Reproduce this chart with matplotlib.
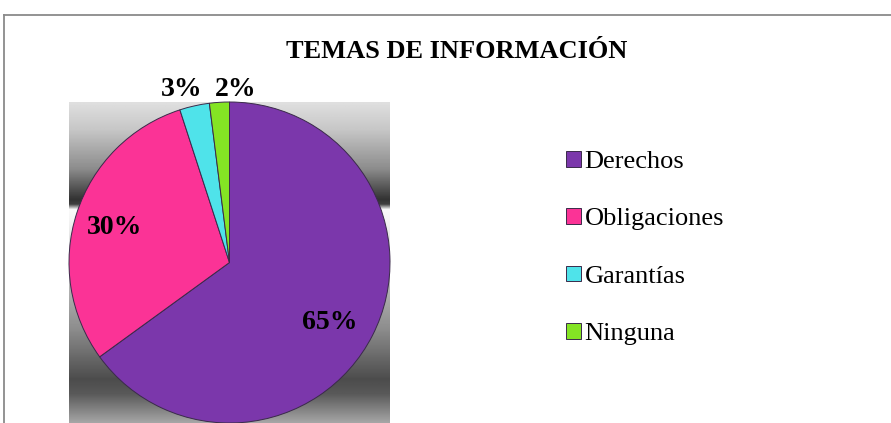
import matplotlib
matplotlib.use("Agg")
import matplotlib.pyplot as plt
import numpy as np
from matplotlib.lines import Line2D

plt.rcParams['font.family'] = ['Liberation Serif', 'DejaVu Serif']

# datos
categorias = ["Derechos", "Obligaciones", "Garantías", "Ninguna"]
porcentajes = [65, 30, 3, 2]
colores = ["#7b37ab", "#fb3396", "#4fe3ea", "#84e424"]
titulo = "TEMAS DE INFORMACIÓN"

fig = plt.figure(figsize=(8.91, 4.23), dpi=100)

# marco (solo arriba e izquierda visibles)
fig.add_artist(Line2D([4/891, 1], [1 - 15/423, 1 - 15/423], color="#8a8a8a", lw=1.3))
fig.add_artist(Line2D([4/891, 4/891], [0, 1 - 15/423], color="#8a8a8a", lw=1.3))

fig.text(457/891, 1 - 52/423, titulo, ha="center", va="center",
         fontsize=19, fontweight="bold")

ax = fig.add_axes([69/891, 0, 321/891, 321/423])

# fondo con degradado gris
paradas_y = [0.0, 0.087, 0.21, 0.305, 0.32, 0.336, 0.38, 0.5, 0.71, 0.865, 0.91, 1.0]
paradas_g = [0.88, 0.78, 0.55, 0.20, 0.25, 0.98, 0.95, 0.80, 0.55, 0.30, 0.35, 0.65]
yy = np.linspace(0, 1, 400)
grad = np.interp(yy, paradas_y, paradas_g)
img = np.repeat(grad[:, None], 2, axis=1)
ax.imshow(img, cmap="gray", vmin=0, vmax=1, extent=[-1, 1, -1, 1],
          aspect="auto", zorder=0)

wedges, _ = ax.pie(porcentajes, colors=colores, startangle=90, counterclock=False,
                   radius=1.0, wedgeprops=dict(edgecolor="#3a2a4a", linewidth=0.7))
for w in wedges:
    w.set_zorder(2)

ax.set_xlim(-1, 1)
ax.set_ylim(-1, 1)
ax.set_aspect("equal")
ax.axis("off")

# etiquetas de porcentaje
dist = [0.73, 0.75, 1.1, 1.1]
giro = [-4, 1, 0, 0]
alin = ["center", "center", "right", "left"]
for w, p, d, g, a in zip(wedges, porcentajes, dist, giro, alin):
    ang = np.deg2rad((w.theta1 + w.theta2) / 2 + g)
    x, y = d * np.cos(ang), d * np.sin(ang)
    if d > 1:
        y = 1.08
        x = x + (0.07 if a == "right" else -0.02)
    ax.text(x, y, f"{p}%", ha=a, va="center", fontsize=20, fontweight="bold",
            clip_on=False, zorder=5)

fig.legend(wedges, categorias, loc="center left",
           bbox_to_anchor=(566/891, 1 - 248/423), frameon=False,
           fontsize=19, handlelength=0.55, handleheight=0.55,
           handletextpad=0.15, labelspacing=1.33, borderpad=0,
           borderaxespad=0)

fig.savefig("out.png", dpi=100)
